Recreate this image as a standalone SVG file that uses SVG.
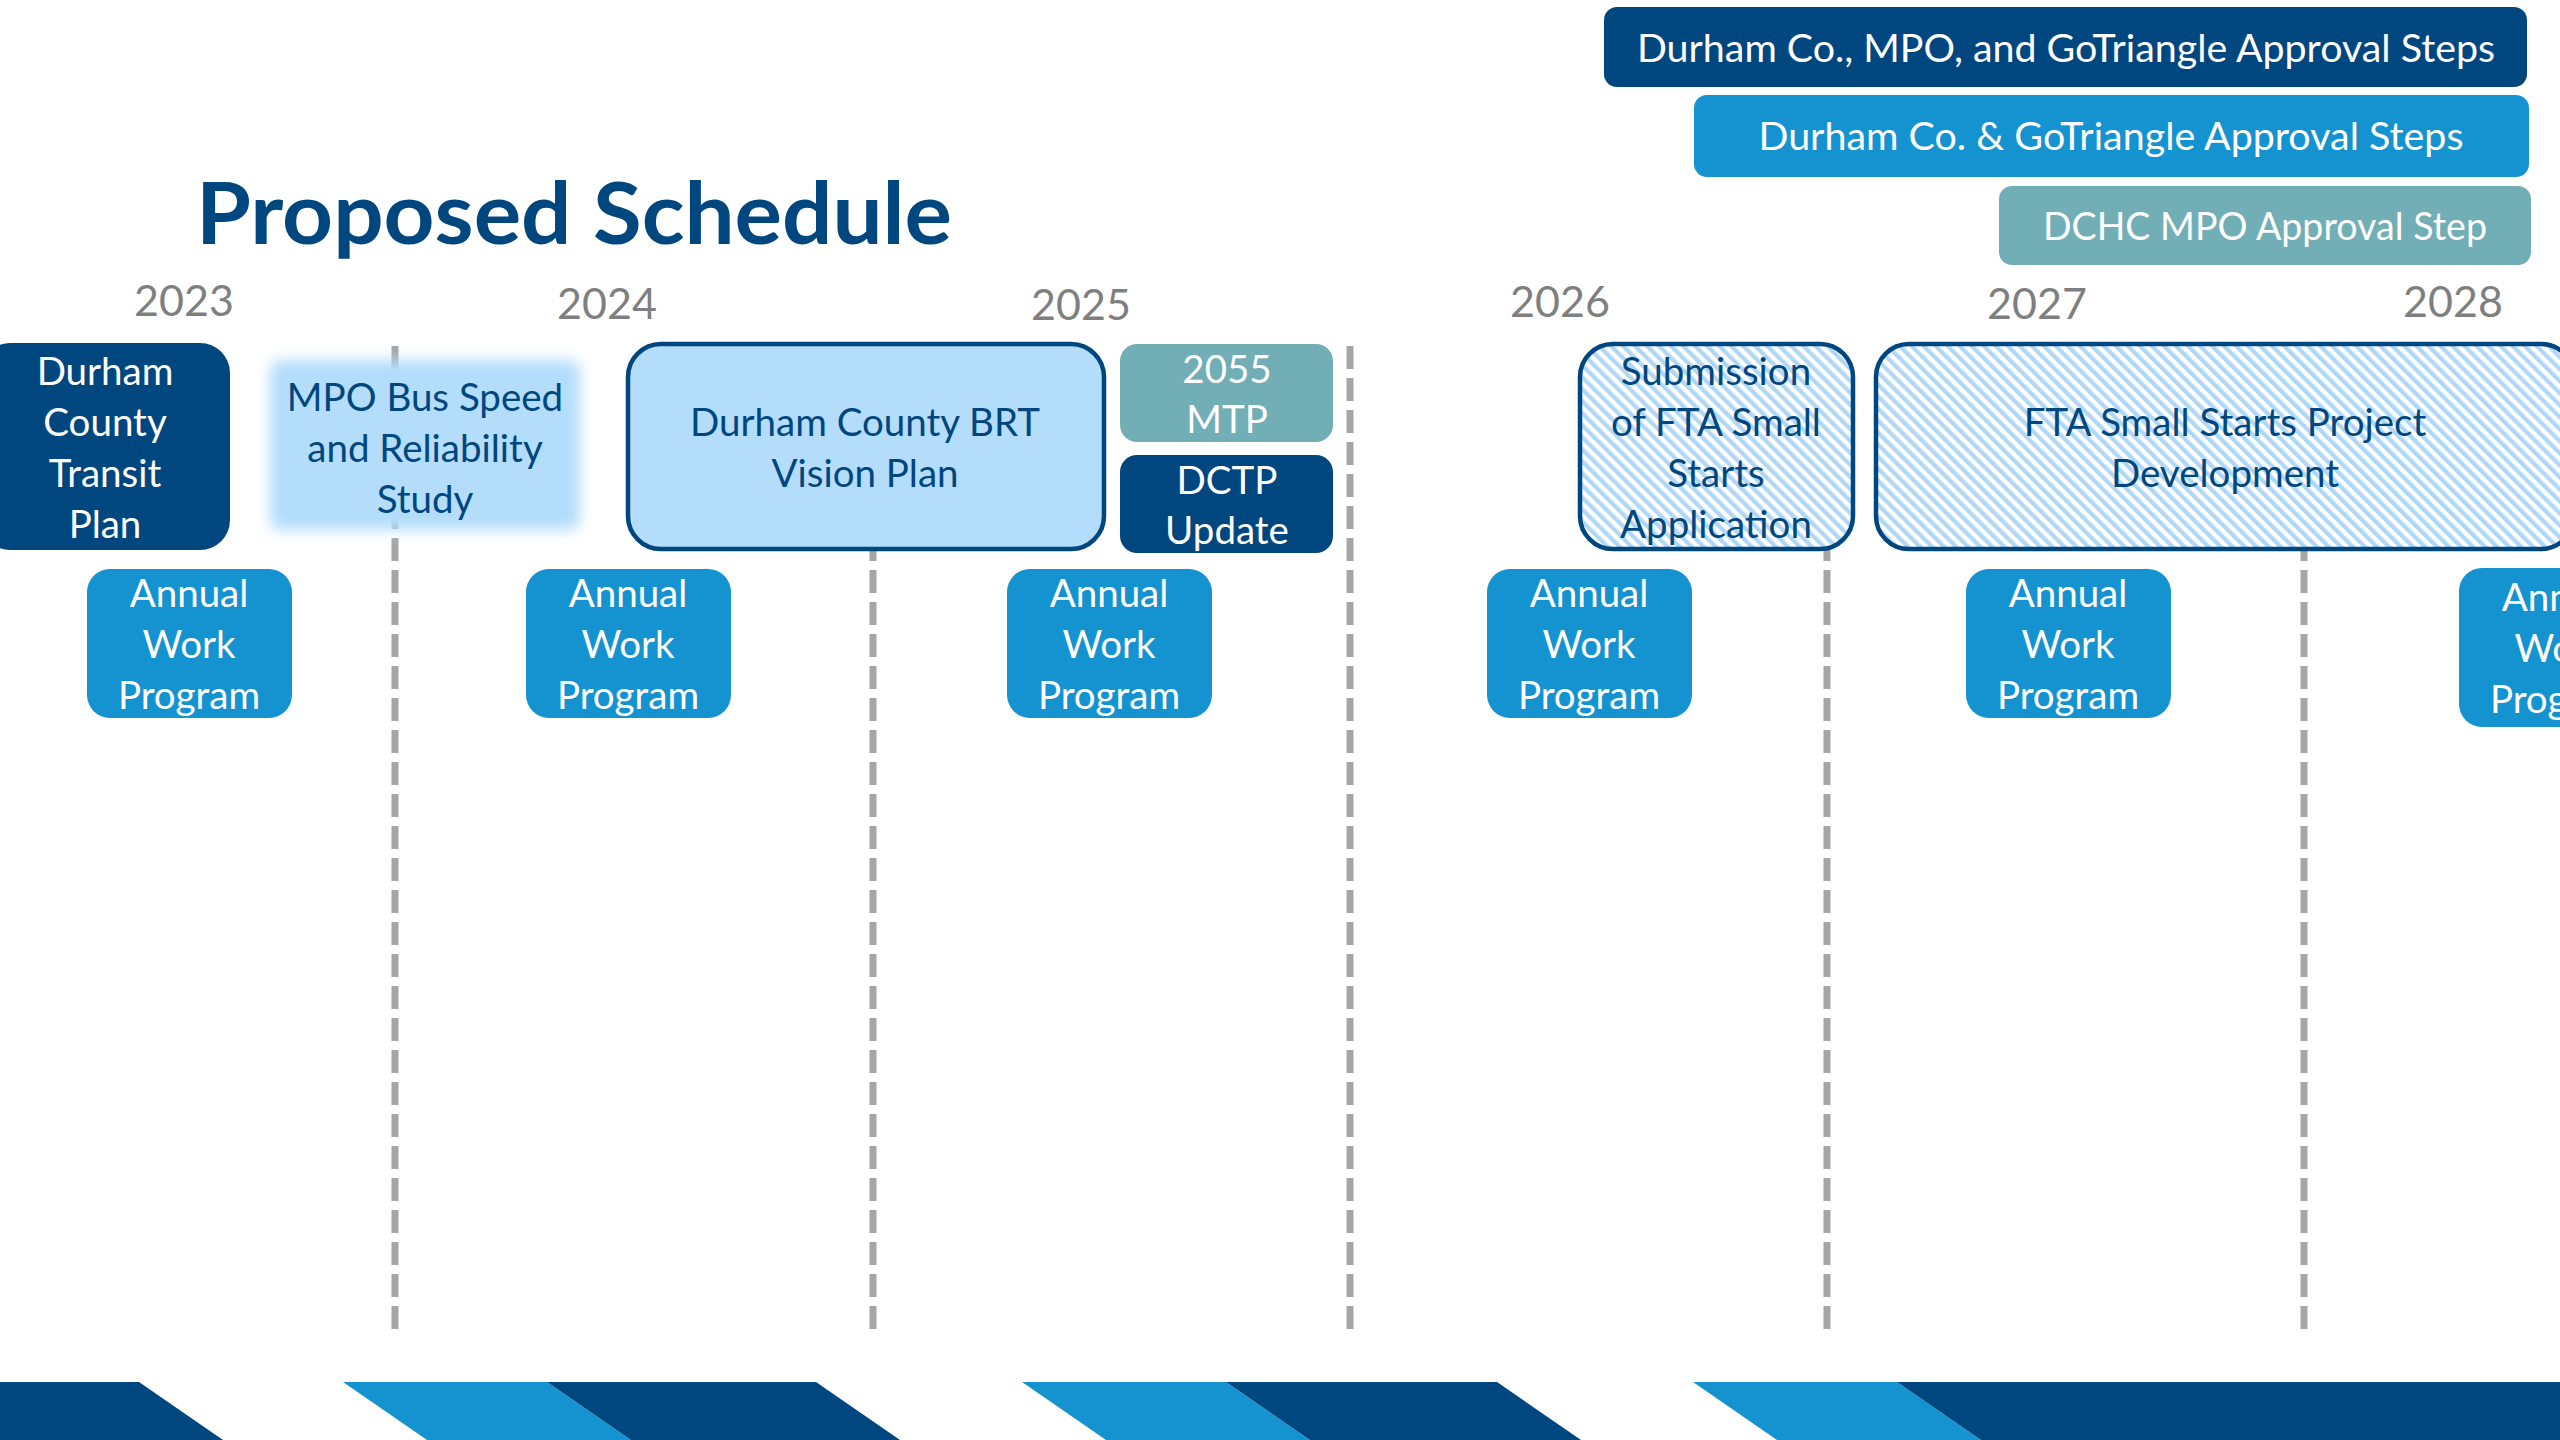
<svg xmlns="http://www.w3.org/2000/svg" width="2560" height="1440" viewBox="0 0 2560 1440">
  <defs>
    <pattern id="hatch" patternUnits="userSpaceOnUse" width="8.5" height="8.5" patternTransform="rotate(-45)">
      <rect x="0" y="0" width="8.5" height="8.5" fill="#FFFFFF"/>
      <rect x="0" y="0" width="4.2" height="8.5" fill="#AFD8F8"/>
    </pattern>
    <filter id="soft" x="-10%" y="-15%" width="120%" height="130%">
      <feGaussianBlur stdDeviation="7"/>
    </filter>
  </defs>
  <style>
    text { font-family: Lato, "Open Sans", "DejaVu Sans", sans-serif; text-anchor: middle; }
    .t { font-size: 38.5px; }
    .w { fill: #FFFFFF; }
    .d { fill: #00467F; }
    .yr { font-size: 43px; fill: #7F7F7F; }
    .navy { fill: #00467F; }
    .blue { fill: #1493D0; }
    .teal { fill: #72AEB6; }
    .lite { fill: #B3DDFB; }
    .grid { stroke: #A6A6A6; stroke-width: 7; stroke-dasharray: 23 9; fill: none; }
    .outl { stroke: #00467F; stroke-width: 4.5; }
  </style>
  <rect x="0" y="0" width="2560" height="1440" fill="#FFFFFF"/>

  <!-- Title -->
  <text x="196" y="244" style="text-anchor:start;font-weight:700;font-size:86px;fill:#00467F" textLength="756" lengthAdjust="spacingAndGlyphs">Proposed Schedule</text>

  <!-- Legend -->
  <g id="legend-1">
    <rect x="1604" y="7" width="923" height="80" rx="13" class="navy"/>
    <text x="2066" y="62" class="t w" textLength="858" lengthAdjust="spacingAndGlyphs">Durham Co., MPO, and GoTriangle Approval Steps</text>
  </g>
  <g id="legend-2">
    <rect x="1694" y="95" width="835" height="82" rx="13" class="blue"/>
    <text x="2111" y="150" class="t w" textLength="705" lengthAdjust="spacingAndGlyphs">Durham Co. &amp; GoTriangle Approval Steps</text>
  </g>
  <g id="legend-3">
    <rect x="1999" y="186" width="532" height="79" rx="13" class="teal"/>
    <text x="2265" y="240" class="t w" textLength="444" lengthAdjust="spacingAndGlyphs">DCHC MPO Approval Step</text>
  </g>

  <!-- Years -->
  <g id="years">
    <text x="184" y="316" class="yr">2023</text>
    <text x="607" y="319" class="yr">2024</text>
    <text x="1081" y="320" class="yr">2025</text>
    <text x="1560" y="317" class="yr">2026</text>
    <text x="2037" y="319" class="yr">2027</text>
    <text x="2453" y="317" class="yr">2028</text>
  </g>

  <!-- Dashed grid lines -->
  <g id="connectors">
    <line x1="395" y1="346" x2="395" y2="1329" class="grid"/>
    <line x1="873" y1="346" x2="873" y2="1329" class="grid"/>
    <line x1="1350" y1="346" x2="1350" y2="1329" class="grid"/>
    <line x1="1827" y1="346" x2="1827" y2="1329" class="grid"/>
    <line x1="2304" y1="346" x2="2304" y2="1329" class="grid"/>
  </g>

  <!-- Nodes -->
  <g id="node-transit-plan">
    <rect x="-20" y="343" width="250" height="207" rx="30" class="navy"/>
    <text x="105" y="385" class="t w">Durham</text>
    <text x="105" y="436" class="t w">County</text>
    <text x="105" y="487" class="t w">Transit</text>
    <text x="105" y="538" class="t w">Plan</text>
  </g>

  <g id="node-mpo-study">
    <rect x="270" y="360" width="310" height="170" rx="10" class="lite" filter="url(#soft)"/>
    <text x="425" y="411" class="t d">MPO Bus Speed</text>
    <text x="425" y="462" class="t d">and Reliability</text>
    <text x="425" y="513" class="t d">Study</text>
  </g>

  <g id="node-brt-vision">
    <rect x="628" y="344" width="476" height="205" rx="33" class="lite outl"/>
    <text x="865" y="436" class="t d">Durham County BRT</text>
    <text x="865" y="487" class="t d">Vision Plan</text>
  </g>

  <g id="node-mtp">
    <rect x="1120" y="344" width="213" height="98" rx="17" class="teal"/>
    <text x="1227" y="383" class="t w">2055</text>
    <text x="1227" y="433" class="t w">MTP</text>
  </g>

  <g id="node-dctp">
    <rect x="1120" y="455" width="213" height="98" rx="17" class="navy"/>
    <text x="1227" y="494" class="t w">DCTP</text>
    <text x="1227" y="544" class="t w">Update</text>
  </g>

  <g id="node-submission">
    <rect x="1580" y="344" width="273" height="205" rx="33" fill="url(#hatch)" class="outl"/>
    <text x="1716" y="385" class="t d">Submission</text>
    <text x="1716" y="436" class="t d">of FTA Small</text>
    <text x="1716" y="487" class="t d">Starts</text>
    <text x="1716" y="538" class="t d">Application</text>
  </g>

  <g id="node-project-development">
    <rect x="1876" y="344" width="698" height="205" rx="33" fill="url(#hatch)" class="outl"/>
    <text x="2225" y="436" class="t d">FTA Small Starts Project</text>
    <text x="2225" y="487" class="t d">Development</text>
  </g>

  <g id="node-awp-1">
    <rect x="87" y="569" width="205" height="149" rx="23" class="blue"/>
    <text x="189" y="607" class="t w">Annual</text>
    <text x="189" y="658" class="t w">Work</text>
    <text x="189" y="709" class="t w">Program</text>
  </g>
  <g id="node-awp-2">
    <rect x="526" y="569" width="205" height="149" rx="23" class="blue"/>
    <text x="628" y="607" class="t w">Annual</text>
    <text x="628" y="658" class="t w">Work</text>
    <text x="628" y="709" class="t w">Program</text>
  </g>
  <g id="node-awp-3">
    <rect x="1007" y="569" width="205" height="149" rx="23" class="blue"/>
    <text x="1109" y="607" class="t w">Annual</text>
    <text x="1109" y="658" class="t w">Work</text>
    <text x="1109" y="709" class="t w">Program</text>
  </g>
  <g id="node-awp-4">
    <rect x="1487" y="569" width="205" height="149" rx="23" class="blue"/>
    <text x="1589" y="607" class="t w">Annual</text>
    <text x="1589" y="658" class="t w">Work</text>
    <text x="1589" y="709" class="t w">Program</text>
  </g>
  <g id="node-awp-5">
    <rect x="1966" y="569" width="205" height="149" rx="23" class="blue"/>
    <text x="2068" y="607" class="t w">Annual</text>
    <text x="2068" y="658" class="t w">Work</text>
    <text x="2068" y="709" class="t w">Program</text>
  </g>
  <g id="node-awp-6">
    <rect x="2459" y="568" width="205" height="159" rx="23" class="blue"/>
    <text x="2561" y="611" class="t w">Annual</text>
    <text x="2561" y="662" class="t w">Work</text>
    <text x="2561" y="713" class="t w">Program</text>
  </g>

  <!-- Bottom band -->
  <g id="footer-band">
    <polygon points="0,1382 139,1382 223,1440 0,1440" class="navy"/>
    <polygon points="343,1382 547,1382 631,1440 427,1440" class="blue"/>
    <polygon points="547,1382 816,1382 900,1440 631,1440" class="navy"/>
    <polygon points="1022,1382 1226,1382 1310,1440 1106,1440" class="blue"/>
    <polygon points="1226,1382 1497,1382 1581,1440 1310,1440" class="navy"/>
    <polygon points="1693,1382 1897,1382 1981,1440 1777,1440" class="blue"/>
    <polygon points="1897,1382 2560,1382 2560,1440 1981,1440" class="navy"/>
  </g>
</svg>
